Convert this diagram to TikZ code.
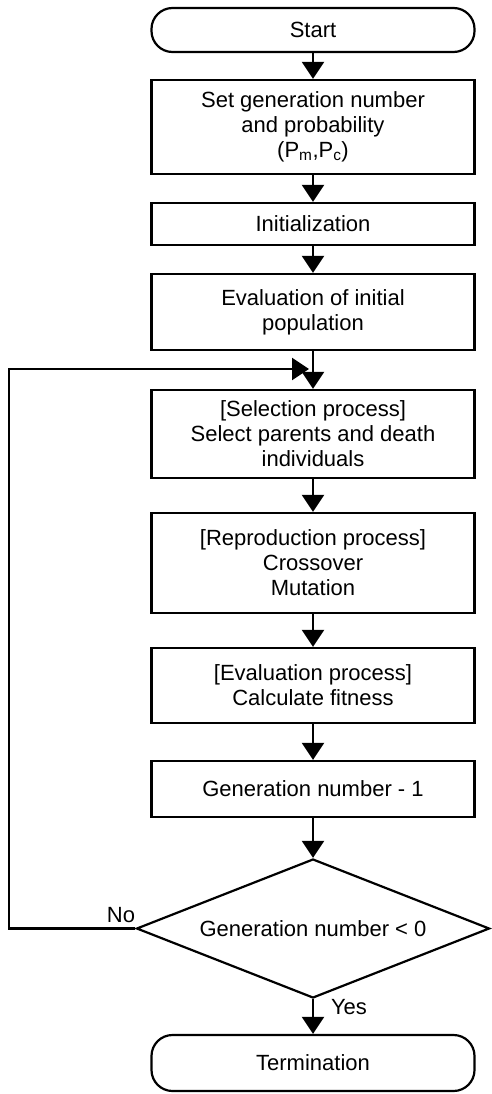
\documentclass[tikz,border=0pt]{standalone}
\usepackage{fontspec}
\setmainfont{Liberation Sans}
\usetikzlibrary{shapes.geometric,arrows.meta}
\begin{document}
\begin{tikzpicture}[x=1pt,y=-1pt, line width=2.2pt,
  box/.style={draw, rectangle, minimum width=323pt, inner sep=0pt, align=center,
    font=\fontsize{22}{25}\selectfont},
  term/.style={box, rounded corners=21pt},
  dec/.style={draw, diamond, aspect=2.54, minimum width=353pt, minimum height=139pt, inner sep=0pt,
    font=\fontsize{22}{25}\selectfont},
  arr/.style={-{Triangle[length=17pt,width=22pt]}},
  lbl/.style={font=\fontsize{22}{25}\selectfont, inner sep=0pt}]
\useasboundingbox (0,0) rectangle (491,1094);
\node[term, minimum height=44pt] (start) at (313,30) {Start};
\node[box, minimum height=94pt] (set) at (313,127) {Set generation number\\and probability\\(P\textsubscript{m},P\textsubscript{c})};
\node[box, minimum height=42pt] (init) at (313,224) {Initialization};
\node[box, minimum height=76pt] (pop) at (313,312) {Evaluation of initial\\population};
\node[box, minimum height=88pt] (sel) at (313,434) {[Selection process]\\Select parents and death\\individuals};
\node[box, minimum height=100pt] (rep) at (313,563) {[Reproduction process]\\Crossover\\Mutation};
\node[box, minimum height=75pt] (eval) at (313,685.5) {[Evaluation process]\\Calculate fitness};
\node[box, minimum height=56pt] (gen) at (313,789) {Generation number - 1};
\node[dec] (cond) at (313,928.5) {Generation number < 0};
\node[term, minimum height=56pt] (term) at (313,1063) {Termination};
\node[lbl] (no) at (121,915) {No};
\node[lbl] (yes) at (349,1007) {Yes};
\coordinate (j) at (313,369);
\coordinate (lc) at (9,369);
\draw[arr] (start) -- (set);
\draw[arr] (set) -- (init);
\draw[arr] (init) -- (pop);
\draw[arr] (pop) -- (sel);
\draw[arr] (sel) -- (rep);
\draw[arr] (rep) -- (eval);
\draw[arr] (eval) -- (gen);
\draw[arr] (gen) -- (cond);
\draw[arr] (cond) -- (term);
\draw[arr, shorten >=4pt] (cond.west) -| (lc) -- (j);
\end{tikzpicture}
\end{document}
